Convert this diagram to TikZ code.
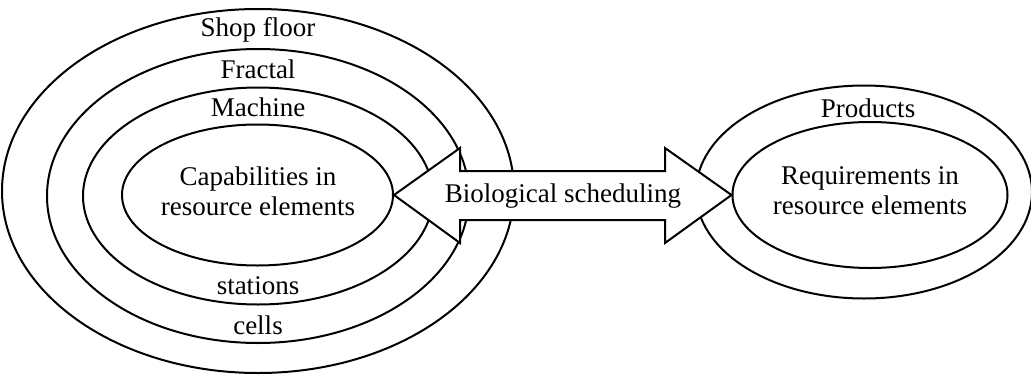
\documentclass[tikz,border=0pt]{standalone}
\usepackage{fontspec}
\setmainfont{Liberation Serif}
\usetikzlibrary{shapes.geometric}
\begin{document}
\begin{tikzpicture}[x=1pt,y=-1pt,
  ring/.style={draw, line width=2pt, ellipse, inner sep=0pt},
  lbl/.style={font=\fontsize{27}{30}\selectfont, align=center, inner sep=0pt}]
\useasboundingbox (0,0) rectangle (1031,375);
% left nested ellipses
\node[ring, minimum width=512pt, minimum height=364pt] (shop) at (258,191) {};
\node[ring, minimum width=422pt, minimum height=294pt] (fractal) at (258,196) {};
\node[ring, minimum width=350pt, minimum height=217pt] (machine) at (258,196) {};
\node[ring, minimum width=271pt, minimum height=141pt] (cap) at (257.5,195) {};
% right ellipses
\node[ring, minimum width=336pt, minimum height=213pt] (prod) at (864,192) {};
\node[ring, minimum width=275pt, minimum height=146pt] (req) at (870,195) {};
% double arrow
\coordinate (lt) at (cap.east);
\coordinate (rt) at (req.west);
\draw[line width=2pt, fill=white, line join=miter]
  (lt) -- (460,148) -- (460,171) -- (665,171) -- (665,148) -- (rt)
  -- (665,243) -- (665,220) -- (460,220) -- (460,243) -- cycle;
% labels
\node[lbl] (t1) at (258,30) {Shop floor};
\node[lbl] (t2) at (258,69) {Fractal};
\node[lbl] (t3) at (258,107) {Machine};
\node[lbl] (t4) at (258,191) {Capabilities in\\resource elements};
\node[lbl] (t5) at (258,286) {stations};
\node[lbl] (t6) at (258,325) {cells};
\node[lbl] (t7) at (563,196) {Biological scheduling};
\node[lbl] (t8) at (868,108) {Products};
\node[lbl] (t9) at (870,191) {Requirements in\\resource elements};
\end{tikzpicture}
\end{document}
